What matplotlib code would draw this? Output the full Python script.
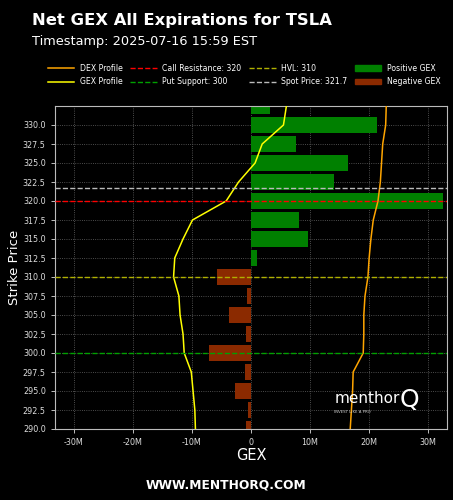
import numpy as np
import matplotlib.pyplot as plt
from matplotlib.patches import Patch
from matplotlib.lines import Line2D

# Data (GEX in millions)
strikes = [290.0, 292.5, 295.0, 297.5, 300.0, 302.5, 305.0, 307.5, 310.0,
           312.5, 315.0, 317.5, 320.0, 322.5, 325.0, 327.5, 330.0, 332.5]
net_gex = [-0.9, -0.45, -2.7, -1.0, -7.1, -0.9, -3.7, -0.7, -5.8,
           1.1, 9.6, 8.1, 32.5, 14.0, 16.4, 7.7, 21.4, 3.2]
gex_profile = [-9.4, -9.5, -9.8, -10.1, -11.3, -11.5, -12.0, -12.2, -13.1,
               -12.9, -11.5, -9.9, -4.2, -2.1, 0.7, 1.9, 5.5, 6.0]
dex_profile = [16.8, 17.0, 17.2, 17.3, 19.0, 19.1, 19.1, 19.3, 19.8,
               20.0, 20.3, 20.7, 21.5, 21.9, 22.1, 22.3, 22.8, 22.9]

call_resistance = 320
put_support = 300
hvl = 310
spot_price = 321.7

ticker = "TSLA"
timestamp = "2025-07-16 15:59 EST"

strikes = np.array(strikes)
net_gex = np.array(net_gex)

fig = plt.figure(figsize=(4.53, 5.0), dpi=100, facecolor='black')
ax = fig.add_axes([0.121, 0.142, 0.866, 0.646])
ax.set_facecolor('black')

pos_color = '#008000'
neg_color = '#8B2A00'
colors = [pos_color if v >= 0 else neg_color for v in net_gex]
ax.barh(strikes, net_gex, height=2.1, color=colors, zorder=2)

ax.plot(dex_profile, strikes, color='#FFA500', lw=1.1, zorder=3)
ax.plot(gex_profile, strikes, color='yellow', lw=1.1, zorder=3)

ax.axhline(call_resistance, color='red', ls='--', lw=1.0, zorder=4)
ax.axhline(put_support, color='#00A000', ls='--', lw=1.0, zorder=4)
ax.axhline(hvl, color='#B0B000', ls='--', lw=1.0, zorder=4)
ax.axhline(spot_price, color='#BBBBBB', ls='--', lw=1.0, zorder=4)

ax.set_xlim(-33.2, 33.2)
ax.set_ylim(290, 332.5)
ax.set_yticks(np.arange(290, 331, 2.5))
ax.set_yticklabels([f"{v:.1f}" for v in np.arange(290, 331, 2.5)])
xt = [-30, -20, -10, 0, 10, 20, 30]
ax.set_xticks(xt)
ax.set_xticklabels([f"{v}M" if v != 0 else "0" for v in xt])

ax.grid(True, color='#666666', ls=':', lw=0.6, zorder=0)
ax.tick_params(colors='#DDDDDD', labelsize=5.8, length=3, width=0.6)
for sp in ax.spines.values():
    sp.set_color('#BBBBBB')
    sp.set_linewidth(0.8)

ax.set_ylabel('Strike Price', color='white', fontsize=9.5, labelpad=1)
ax.set_xlabel('GEX', color='white', fontsize=10.5, labelpad=1)

# watermark
ax.text(0.712, 0.095, 'menthor', transform=ax.transAxes, color='white',
        fontsize=11, va='center', ha='left', zorder=6)
ax.text(0.712, 0.052, 'INVEST LIKE A PRO', transform=ax.transAxes, color='#CCCCCC',
        fontsize=2.8, va='center', ha='left', zorder=6)
ax.text(0.903, 0.09, 'Q', transform=ax.transAxes, color='white',
        fontsize=18, va='center', ha='center', zorder=6)

fig.text(0.071, 0.958, f'Net GEX All Expirations for {ticker}', color='white',
         fontsize=11.8, fontweight='bold', va='center', ha='left')
fig.text(0.071, 0.917, f'Timestamp: {timestamp}', color='white',
         fontsize=9.3, va='center', ha='left')

handles = [
    Line2D([], [], color='#FFA500', lw=1.1, label='DEX Profile'),
    Line2D([], [], color='yellow', lw=1.1, label='GEX Profile'),
    Line2D([], [], color='red', ls='--', lw=1.0, label=f'Call Resistance: {call_resistance}'),
    Line2D([], [], color='#00A000', ls='--', lw=1.0, label=f'Put Support: {put_support}'),
    Line2D([], [], color='#B0B000', ls='--', lw=1.0, label=f'HVL: {hvl}'),
    Line2D([], [], color='#BBBBBB', ls='--', lw=1.0, label=f'Spot Price: {spot_price}'),
    Patch(color=pos_color, label='Positive GEX'),
    Patch(color=neg_color, label='Negative GEX'),
]
fig.legend(handles=handles, ncol=4, loc='center', bbox_to_anchor=(0.539, 0.85),
           frameon=False, fontsize=5.6, labelcolor='white',
           handlelength=3.4, columnspacing=1.0, handletextpad=0.7,
           labelspacing=0.6)

fig.text(0.5, 0.03, 'WWW.MENTHORQ.COM', color='white', fontsize=8.8,
         fontweight='bold', ha='center', va='center')

fig.savefig('out.png', dpi=100, facecolor='black')
